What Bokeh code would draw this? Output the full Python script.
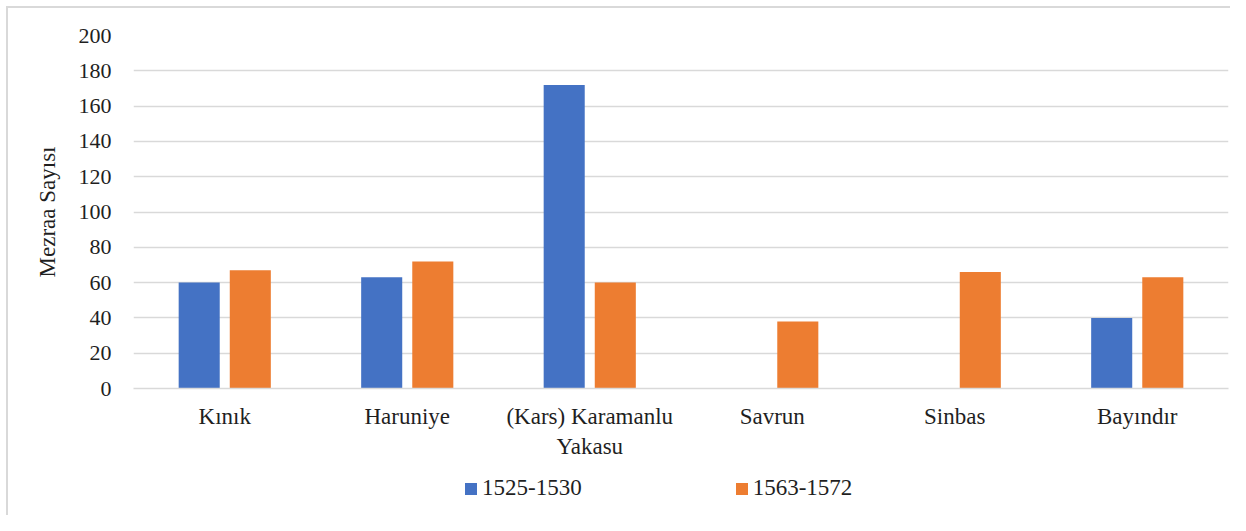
from bokeh.plotting import figure
from bokeh.layouts import column
from bokeh.models import ColumnDataSource, FactorRange, Range1d, Legend, LegendItem, SingleIntervalTicker
from bokeh.transform import dodge
from bokeh.embed import file_html
from bokeh.resources import INLINE

categories = ["Kınık", "Haruniye", "(Kars) Karamanlu\nYakasu", "Savrun", "Sinbas", "Bayındır"]
series_1525 = [60, 63, 172, 0, 0, 40]
series_1563 = [67, 72, 60, 38, 66, 63]
series_names = ["1525-1530", "1563-1572"]
colors = ["#4472C4", "#ED7D31"]

FONT = "Liberation Serif"
TXT = "#1f1f1f"
GRID = "#d9d9d9"

source = ColumnDataSource(data=dict(cat=categories, a=series_1525, b=series_1563))

p = figure(x_range=FactorRange(*categories), y_range=Range1d(0, 200),
           width=1230, height=463, output_backend="svg", toolbar_location=None)
p.min_border_left = 133
p.min_border_top = 35
p.min_border_right = 2
p.min_border_bottom = 75
p.outline_line_color = None
p.background_fill_color = None
p.border_fill_color = None

p.vbar(x=dodge("cat", -0.14, range=p.x_range), top="a", width=0.225, source=source,
       fill_color=colors[0], line_color=None)
p.vbar(x=dodge("cat", 0.14, range=p.x_range), top="b", width=0.225, source=source,
       fill_color=colors[1], line_color=None)

p.yaxis.ticker = SingleIntervalTicker(interval=20)
p.ygrid.grid_line_color = GRID
p.ygrid.grid_line_width = 1.5
p.xgrid.grid_line_color = None

for ax in (p.xaxis, p.yaxis):
    ax.major_tick_line_color = None
    ax.minor_tick_line_color = None
    ax.major_label_text_font = FONT
    ax.major_label_text_color = TXT
p.yaxis.major_label_text_font_size = "22px"
p.xaxis.major_label_text_font_size = "23px"
p.yaxis.axis_line_color = None
p.xaxis.axis_line_color = GRID
p.xaxis.axis_line_width = 1.5
p.yaxis.major_label_standoff = 16
p.xaxis.major_label_standoff = 9

p.yaxis.axis_label = "Mezraa Sayısı"
p.yaxis.axis_label_text_font = FONT
p.yaxis.axis_label_text_font_size = "23px"
p.yaxis.axis_label_text_font_style = "normal"
p.yaxis.axis_label_text_color = TXT
p.yaxis.axis_label_standoff = 16

# legend strip (zero-height proxy bars only carry the legend swatches)
lf = figure(width=1230, height=52, output_backend="svg", toolbar_location=None,
            x_range=Range1d(0, 1), y_range=Range1d(0, 1))
lf.min_border = 0
lf.axis.visible = False
lf.grid.visible = False
lf.outline_line_color = None
lf.background_fill_color = None
lf.border_fill_color = None
proxy = ColumnDataSource(data=dict(x=[0], top=[0]))
lr1 = lf.vbar(x="x", top="top", width=0, source=proxy, fill_color=colors[0], line_color=None)
lr2 = lf.vbar(x="x", top="top", width=0, source=proxy, fill_color=colors[1], line_color=None)

legend = Legend(items=[LegendItem(label=series_names[0], renderers=[lr1]),
                       LegendItem(label=series_names[1], renderers=[lr2])],
                orientation="horizontal", location=(330, 14))
legend.label_text_font = FONT
legend.label_text_font_size = "23px"
legend.label_text_color = TXT
legend.glyph_width = 15
legend.glyph_height = 15
legend.label_standoff = 4
legend.spacing = 152
legend.border_line_color = None
legend.background_fill_alpha = 0
legend.padding = 0
legend.margin = 0
lf.add_layout(legend, "center")

layout = column(p, lf, spacing=0)
layout.styles = {"background": "linear-gradient(#d9d9d9,#d9d9d9) 6px 6px / 100% 2px no-repeat, "
                               "linear-gradient(#d9d9d9,#d9d9d9) 6px 6px / 2px 100% no-repeat, white"}

open("out.html", "w").write(file_html(layout, INLINE))
